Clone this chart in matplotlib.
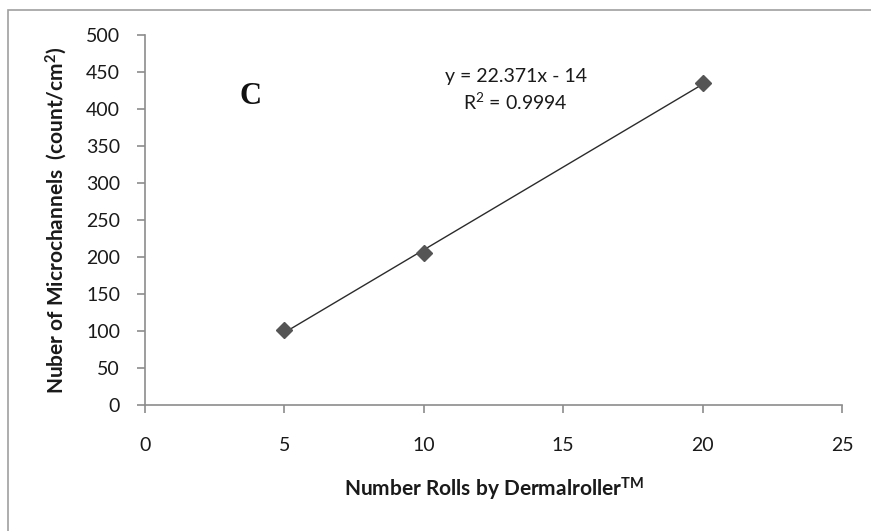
import numpy as np
import matplotlib
matplotlib.use("Agg")
import matplotlib.pyplot as plt
from matplotlib.patches import Rectangle

# Data
rolls = [5, 10, 20]
microchannels = [101, 205, 435]
x_ticks = [0, 5, 10, 15, 20, 25]
y_ticks = [0, 50, 100, 150, 200, 250, 300, 350, 400, 450, 500]
equation_text = "y = 22.371x - 14\nR$^2$ = 0.9994"
panel_label = "C"
x_title = "Number Rolls by Dermalroller$^{\\mathregular{TM}}$"
y_title = "Nuber of Microchannels  (count/cm$^{\\mathregular{2}}$)"

plt.rcParams['font.family'] = ['Lato', 'DejaVu Sans']
plt.rcParams['mathtext.default'] = 'regular'

W, H = 871, 531
fig = plt.figure(figsize=(W / 100, H / 100), dpi=100)
ax = fig.add_axes([145 / W, 1 - 405 / H, (842 - 145) / W, (405 - 35) / H])

# Outer frame (clipped at right/bottom)
fig.patches.append(Rectangle((8 / W, -0.05), 1.2, (1 - 10 / H) + 0.05,
                             transform=fig.transFigure, fill=False,
                             edgecolor='#a0a0a0', linewidth=1.2))

# Trendline
coef = np.polyfit(rolls, microchannels, 1)
xs = np.array([min(rolls), max(rolls)])
ax.plot(xs, np.polyval(coef, xs), color='#2b2b2b', linewidth=1.0, zorder=2)

# Markers
ax.plot(rolls, microchannels, linestyle='none', marker='D', markersize=8.5,
        color='#555555', markeredgecolor='#555555', zorder=3)

ax.set_xlim(0, 25)
ax.set_ylim(0, 500)
ax.set_xticks(x_ticks)
ax.set_yticks(y_ticks)

for s in ['top', 'right']:
    ax.spines[s].set_visible(False)
for s in ['left', 'bottom']:
    ax.spines[s].set_color('#8c8c8c')
    ax.spines[s].set_linewidth(1.2)

ax.tick_params(axis='both', direction='out', length=6, width=1.2,
               color='#8c8c8c', labelsize=14, labelcolor='#1a1a1a')
ax.tick_params(axis='x', pad=17)
ax.tick_params(axis='y', pad=12)

ax.set_xlabel(x_title, fontsize=15, fontweight='bold', labelpad=16, color='#1a1a1a')
ax.set_ylabel(y_title, fontsize=15, fontweight='bold', labelpad=12, color='#1a1a1a')

ax.text(3.8, 417, panel_label, fontsize=22, fontweight='bold',
        family='Liberation Serif', ha='center', va='center', color='#111111')
ax.text(13.3, 425, equation_text, fontsize=14, ha='center', va='center',
        linespacing=1.35, color='#1a1a1a')

fig.savefig("out.png", dpi=100)
